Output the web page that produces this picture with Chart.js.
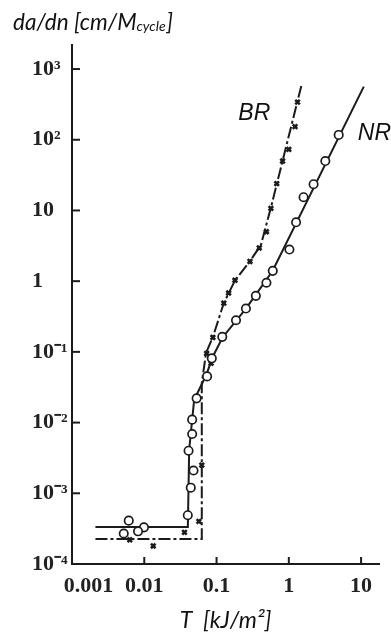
<!DOCTYPE html>
<html><head><meta charset="utf-8">
<script src="https://cdn.jsdelivr.net/npm/chart.js@4.4.1/dist/chart.umd.min.js"></script>
<style>html,body{margin:0;padding:0;background:#fff;} canvas{display:block;}</style>
</head><body>
<canvas id="c" width="391" height="637"></canvas>
<script>
// ---- data ----
const xTickValues = [0.001, 0.01, 0.1, 1, 10];
const xTickLabels = ['\u2007\u2007\u20070.001', '0.01', '0.1', '1', '10'];
const yTickValues = [1e-4, 1e-3, 1e-2, 1e-1, 1, 10, 100, 1000];
const yTickLabels = ['10⁻⁴', '10⁻³', '10⁻²', '10⁻¹', '1', '10', '10²', '10³'];

// NR measured points (open circles)
const nrX = [4.9, 3.2, 2.2, 1.6, 1.26, 1.02, 0.6, 0.49, 0.35, 0.255, 0.186, 0.12, 0.086, 0.074, 0.053, 0.046, 0.046, 0.041, 0.048, 0.044, 0.040, 0.0099, 0.0082, 0.0061, 0.0052];
const nrY = [117, 50, 23.5, 15.4, 6.8, 2.8, 1.4, 0.95, 0.62, 0.41, 0.28, 0.163, 0.081, 0.045, 0.022, 0.011, 0.0069, 0.004, 0.0021, 0.0012, 0.00049, 0.00033, 0.00029, 0.00041, 0.00027];
// NR fitted curve (solid)
const nrFitX = [0.00211, 0.0401, 0.0418, 0.049, 0.072, 0.089, 0.121, 0.255, 0.595, 10.9];
const nrFitY = [0.000333, 0.000333, 0.0041, 0.021, 0.047, 0.086, 0.16, 0.41, 1.39, 564];

// BR measured points (crosses)
const brX = [1.32, 1.22, 1.0, 0.82, 0.68, 0.565, 0.49, 0.39, 0.29, 0.18, 0.147, 0.126, 0.089, 0.073, 0.084, 0.0625, 0.057, 0.036, 0.0133, 0.0063];
const brY = [340, 153, 73, 50, 24, 10.7, 5.0, 2.95, 1.9, 1.03, 0.68, 0.49, 0.16, 0.095, 0.069, 0.0025, 0.0004, 0.00028, 0.00018, 0.00022];
// BR fitted curve (dash-dot)
const brFitX = [0.00211, 0.0625, 0.0625, 0.0716, 0.0888, 0.1256, 0.1815, 0.292, 0.411, 0.565, 1.50];
const brFitY = [0.000226, 0.000226, 0.0363, 0.0964, 0.161, 0.486, 1.04, 1.93, 3.25, 10.96, 596];

// series labels, placed in data coordinates
const seriesLabelText = ['BR', 'NR'];
const seriesLabelX = [0.2, 9];
const seriesLabelY = [190, 99];

const toPts = (xs, ys) => xs.map((v, i) => ({x: v, y: ys[i]}));
const INK = '#1b1b1b';

const innerTicks = {
  id: 'innerTicks',
  afterDraw(chart) {
    const {ctx, scales: {x, y}, chartArea: a} = chart;
    ctx.save();
    ctx.strokeStyle = INK; ctx.lineWidth = 2;
    x.ticks.forEach(t => { const p = x.getPixelForValue(t.value); ctx.beginPath(); ctx.moveTo(p, a.bottom); ctx.lineTo(p, a.bottom - 7); ctx.stroke(); });
    y.ticks.forEach(t => { const p = y.getPixelForValue(t.value); ctx.beginPath(); ctx.moveTo(a.left, p); ctx.lineTo(a.left + 8, p); ctx.stroke(); });
    // series labels
    ctx.fillStyle = '#111';
    ctx.font = 'italic 23px "Liberation Sans", Arial, sans-serif';
    ctx.textBaseline = 'alphabetic'; ctx.textAlign = 'left';
    seriesLabelText.forEach((s, i) => ctx.fillText(s, x.getPixelForValue(seriesLabelX[i]), y.getPixelForValue(seriesLabelY[i])));
    // y axis title with subscript
    ctx.fillStyle = '#111';
    ctx.font = 'italic 22.5px Lato, "Open Sans", sans-serif';
    let cx = 13; const by = 30;
    const t1 = 'da/dn [cm/M';
    ctx.fillText(t1, cx, by); cx += ctx.measureText(t1).width;
    ctx.font = 'italic 14px Lato, "Open Sans", sans-serif';
    ctx.fillText('cycle', cx, by + 1); cx += ctx.measureText('cycle').width + 1;
    ctx.font = 'italic 22.5px Lato, "Open Sans", sans-serif';
    ctx.fillText(']', cx, by);
    ctx.restore();
  }
};

new Chart(document.getElementById('c'), {
  type: 'scatter',
  data: {
    datasets: [
      { label: 'NR', data: toPts(nrX, nrY), order: 1, pointStyle: 'circle', pointRadius: 4.2, pointBackgroundColor: '#fff', pointBorderColor: INK, pointBorderWidth: 1.7, showLine: false },
      { label: 'BR', data: toPts(brX, brY), order: 2, pointStyle: 'crossRot', pointRadius: 3.2, pointBorderColor: INK, pointBorderWidth: 2.6, showLine: false },
      { label: 'NR fit', data: toPts(nrFitX, nrFitY), order: 3, showLine: true, pointRadius: 0, borderColor: INK, borderWidth: 2, tension: 0 },
      { label: 'BR fit', data: toPts(brFitX, brFitY), order: 4, showLine: true, pointRadius: 0, borderColor: INK, borderWidth: 2, borderDash: [12, 3, 3, 3], tension: 0 }
    ]
  },
  options: {
    responsive: false, animation: false, devicePixelRatio: 1,
    layout: { padding: { left: 32, right: 12, top: 45, bottom: 0 } },
    plugins: { legend: { display: false }, tooltip: { enabled: false } },
    scales: {
      x: {
        type: 'logarithmic', min: 0.001, max: 17.7,
        afterBuildTicks: s => { s.ticks = xTickValues.map(v => ({value: v})); },
        afterFit: s => { s.height = 73; },
        grid: { display: false },
        border: { display: true, color: INK, width: 2 },
        ticks: { color: '#222', padding: 1, maxRotation: 0, autoSkip: false,
          font: { family: '"Liberation Serif", "Times New Roman", serif', size: 22, weight: 'bold' },
          callback: (v, i) => xTickLabels[i] },
        title: { display: true, text: 'T  [kJ/m²]', color: '#111', padding: { top: 0, bottom: 3 },
          font: { family: 'Lato, "Open Sans", sans-serif', size: 23, style: 'italic' } }
      },
      y: {
        type: 'logarithmic', min: 1e-4, max: 2188,
        afterBuildTicks: s => { s.ticks = yTickValues.map(v => ({value: v})); },
        afterFit: s => { s.width = 40; },
        grid: { display: false },
        border: { display: true, color: INK, width: 2 },
        ticks: { color: '#222', crossAlign: 'far', padding: 4, autoSkip: false,
          font: { family: '"Liberation Serif", "Times New Roman", serif', size: 22, weight: 'bold' },
          callback: (v, i) => yTickLabels[i] }
      }
    }
  },
  plugins: [innerTicks]
});
</script>
</body></html>
